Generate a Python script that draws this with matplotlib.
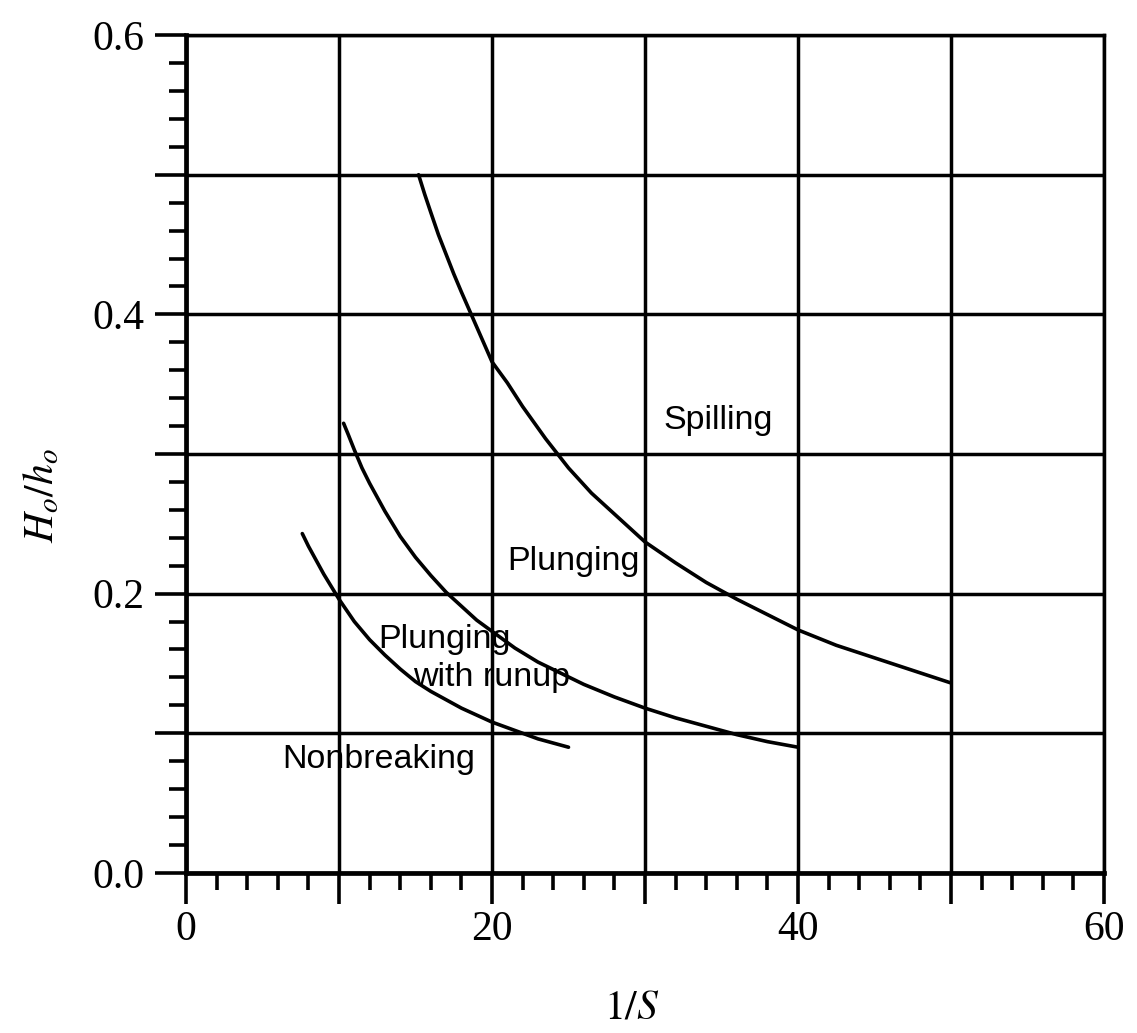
import matplotlib.pyplot as plt
from matplotlib.ticker import MultipleLocator, FuncFormatter

plt.rcParams['mathtext.fontset'] = 'stix'

# boundary curves (x = 1/S, y = H0/h0)
nonbreak_x = [7.6, 8, 8.5, 9, 9.5, 10, 11, 12, 13, 14, 15, 16, 17, 18, 19, 20, 21, 22, 23, 24, 25]
nonbreak_y = [0.243, 0.234, 0.224, 0.214, 0.205, 0.196, 0.180, 0.167, 0.156, 0.146, 0.137,
              0.130, 0.124, 0.118, 0.113, 0.108, 0.104, 0.100, 0.096, 0.093, 0.090]

runup_x = [10.3, 10.6, 11, 11.5, 12, 13, 14, 15, 16, 17, 18, 19, 20, 21.5, 23, 24.5, 26,
           28, 30, 32, 34, 36, 38, 40]
runup_y = [0.322, 0.314, 0.303, 0.290, 0.279, 0.259, 0.241, 0.226, 0.213, 0.201, 0.191, 0.181,
           0.173, 0.161, 0.151, 0.143, 0.135, 0.126, 0.118, 0.111, 0.105, 0.099, 0.094, 0.090]

plunge_x = [15.2, 15.6, 16, 16.5, 17, 17.5, 18, 19, 20, 21, 22, 23.5, 25, 26.5, 28, 30, 32,
            34, 36, 38, 40, 42.5, 45, 47.5, 50]
plunge_y = [0.500, 0.486, 0.473, 0.457, 0.443, 0.429, 0.416, 0.391, 0.366, 0.351, 0.334, 0.311,
            0.290, 0.272, 0.257, 0.237, 0.222, 0.208, 0.196, 0.185, 0.174, 0.163, 0.154, 0.145, 0.136]

region_labels = ["Spilling", "Plunging", "Plunging", "with runup", "Nonbreaking"]
label_x = [34.8, 25.3, 16.9, 20.0, 12.6]
label_y = [0.324, 0.223, 0.167, 0.140, 0.081]

fig = plt.figure(figsize=(11.37, 10.33), dpi=100)
ax = fig.add_axes([0.1636, 0.155, 0.8074, 0.811])

for xs, ys in [(nonbreak_x, nonbreak_y), (runup_x, runup_y), (plunge_x, plunge_y)]:
    ax.plot(xs, ys, color='black', lw=2.6, solid_capstyle='round', solid_joinstyle='round')

for t, x, y in zip(region_labels, label_x, label_y):
    ax.text(x, y, t, fontsize=24.5, family='Liberation Sans', ha='center', va='center')

ax.set_xlim(0, 60)
ax.set_ylim(0, 0.6)
ax.xaxis.set_major_locator(MultipleLocator(10))
ax.xaxis.set_minor_locator(MultipleLocator(2))
ax.yaxis.set_major_locator(MultipleLocator(0.1))
ax.yaxis.set_minor_locator(MultipleLocator(0.02))
ax.xaxis.set_major_formatter(FuncFormatter(lambda v, p: f"{v:.0f}" if round(v) % 20 == 0 else ""))
ax.yaxis.set_major_formatter(FuncFormatter(lambda v, p: f"{v:.1f}" if round(v * 10) % 2 == 0 else ""))

ax.grid(True, which='major', color='black', lw=2.5)
ax.tick_params(which='major', direction='out', length=22, width=2.6, pad=5)
ax.tick_params(which='minor', direction='out', length=12, width=2.6)
ax.tick_params(axis='y', which='major', pad=8)
for lab in ax.get_xticklabels() + ax.get_yticklabels():
    lab.set_family('Liberation Serif')
    lab.set_fontsize(30)

for s in ['top', 'right']:
    ax.spines[s].set_linewidth(2.5)
for s in ['left', 'bottom']:
    ax.spines[s].set_linewidth(3.4)

ax.set_xlabel(r'$1/S$', fontsize=30)
ax.set_ylabel(r'$H_o/h_o$', fontsize=30)
ax.xaxis.set_label_coords(0.486, -0.135)
ax.yaxis.set_label_coords(-0.135, 0.45)

fig.savefig('out.png', dpi=100)
